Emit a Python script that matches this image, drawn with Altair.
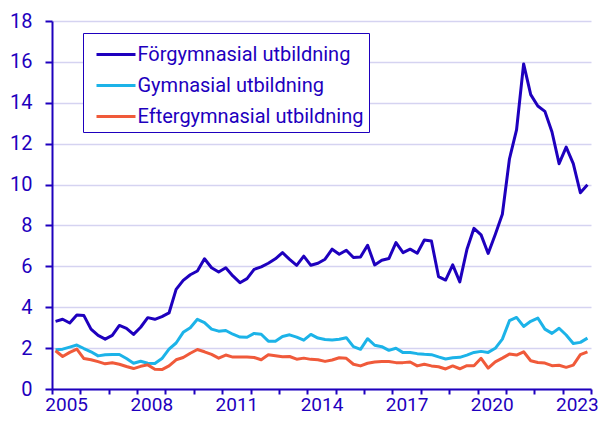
import altair as alt
import pandas as pd

# ---- data ----
years = list(range(2005, 2024))
quarters = [1, 2, 3, 4]
series_names = ["Förgymnasial utbildning", "Gymnasial utbildning", "Eftergymnasial utbildning"]

forgymnasial = [
    3.31, 3.41, 3.23, 3.62, 3.59, 2.93, 2.62, 2.44, 2.62, 3.11, 2.97, 2.67,
    3.02, 3.49, 3.41, 3.54, 3.72, 4.87, 5.31, 5.59, 5.77, 6.37, 5.93, 5.72,
    5.93, 5.53, 5.20, 5.40, 5.85, 5.97, 6.15, 6.37, 6.67, 6.34, 6.05, 6.50,
    6.05, 6.15, 6.35, 6.84, 6.59, 6.79, 6.43, 6.46, 7.03, 6.07, 6.30, 6.38,
    7.16, 6.67, 6.84, 6.64, 7.29, 7.24, 5.50, 5.33, 6.07, 5.24, 6.82, 7.86,
    7.54, 6.63, 7.56, 8.55, 11.25, 12.67, 15.90, 14.40, 13.84, 13.58, 12.57, 11.02,
    11.83, 11.02, 9.60, 9.99,
]
gymnasial = [
    1.92, 1.95, 2.05, 2.15, 1.98, 1.82, 1.62, 1.67, 1.69, 1.69, 1.49, 1.26,
    1.36, 1.26, 1.25, 1.49, 1.95, 2.25, 2.77, 3.00, 3.41, 3.25, 2.93, 2.83,
    2.86, 2.68, 2.54, 2.53, 2.72, 2.68, 2.34, 2.34, 2.57, 2.65, 2.54, 2.39,
    2.67, 2.49, 2.42, 2.40, 2.43, 2.51, 2.07, 1.94, 2.46, 2.14, 2.07, 1.89,
    1.99, 1.78, 1.79, 1.73, 1.70, 1.68, 1.57, 1.47, 1.53, 1.55, 1.66, 1.79,
    1.84, 1.79, 1.99, 2.44, 3.34, 3.50, 3.06, 3.31, 3.47, 2.93, 2.72, 2.97,
    2.64, 2.23, 2.28, 2.49,
]
eftergymnasial = [
    1.87, 1.59, 1.79, 1.95, 1.49, 1.43, 1.34, 1.23, 1.28, 1.21, 1.10, 1.00,
    1.11, 1.18, 0.97, 0.95, 1.13, 1.43, 1.54, 1.75, 1.93, 1.82, 1.69, 1.51,
    1.66, 1.56, 1.56, 1.56, 1.54, 1.43, 1.67, 1.63, 1.58, 1.59, 1.46, 1.51,
    1.45, 1.43, 1.35, 1.42, 1.53, 1.50, 1.21, 1.13, 1.26, 1.32, 1.34, 1.35,
    1.29, 1.29, 1.32, 1.13, 1.21, 1.13, 1.09, 0.98, 1.13, 0.99, 1.14, 1.14,
    1.50, 1.02, 1.33, 1.51, 1.71, 1.66, 1.82, 1.38, 1.30, 1.27, 1.14, 1.16,
    1.06, 1.17, 1.68, 1.82,
]
tick_labels = [2005, 2008, 2011, 2014, 2017, 2020, 2023]
y_ticks = list(range(0, 19, 2))
colors = ["#1E00BE", "#1CB3E8", "#F05A3A"]

TEXT = "#1E00BE"
GRID = "#D5D3F1"
FONT = "Roboto"
FS = 20

periods = [(y, q) for y in years for q in quarters]
rows = []
for name, vals in zip(series_names, [forgymnasial, gymnasial, eftergymnasial]):
    for (y, q), v in zip(periods, vals):
        rows.append({"serie": name, "tid": y + (q - 0.5) / 4, "varde": v})
df = pd.DataFrame(rows)

W, H = 539, 368
year_px = W / (years[-1] + 1 - years[0])

label_expr = (
    "indexof([" + ",".join(str(t) for t in tick_labels) + "], datum.value) >= 0 ? "
    "format(datum.value, 'd') : ''"
)

chart = (
    alt.Chart(df)
    .mark_line(strokeWidth=3, strokeJoin="round")
    .encode(
        x=alt.X(
            "tid:Q",
            scale=alt.Scale(domain=[years[0], years[-1] + 1], nice=False, zero=False),
            axis=alt.Axis(
                title=None,
                values=list(range(years[0], years[-1] + 2)),
                labelExpr=label_expr,
                labelOffset=year_px / 2,
                labelOverlap=False,
                labelBound=False,
                labelFlush=False,
                labelFont=FONT,
                labelFontSize=19,
                labelColor=TEXT,
                labelPadding=1,
                tickColor=TEXT,
                tickWidth=2,
                tickSize=5,
                domainColor=TEXT,
                domainWidth=2,
                grid=False,
            ),
        ),
        y=alt.Y(
            "varde:Q",
            scale=alt.Scale(domain=[0, 18], nice=False),
            axis=alt.Axis(
                title=None,
                values=y_ticks,
                format="d",
                labelFont=FONT,
                labelFontSize=FS,
                labelColor=TEXT,
                labelPadding=13,
                tickColor=TEXT,
                tickWidth=2,
                tickSize=7,
                domainColor=TEXT,
                domainWidth=2,
                grid=True,
                gridColor=GRID,
                gridWidth=1.5,
            ),
        ),
        color=alt.Color(
            "serie:N",
            scale=alt.Scale(domain=series_names, range=colors),
            sort=series_names,
            legend=alt.Legend(
                title=None,
                orient="none",
                legendX=31,
                legendY=12,
                symbolType="M-1.3,0H1.3",
                symbolSize=900,
                symbolStrokeWidth=3,
                symbolOffset=11.5,
                labelFont=FONT,
                labelFontSize=FS,
                labelColor=TEXT,
                labelOffset=5,
                labelLimit=400,
                strokeColor=TEXT,
                fillColor="white",
                padding=5,
                rowPadding=4,
            ),
        ),
        order=alt.Order("tid:Q"),
    )
    .properties(
        width=W,
        height=H,
        autosize=alt.AutoSizeParams(type="none"),
        padding={"left": 44, "top": 13, "right": 7, "bottom": 25},
    )
    .configure_view(stroke=None)
)

chart.save("out.html", embed_options={"renderer": "svg", "actions": False})
